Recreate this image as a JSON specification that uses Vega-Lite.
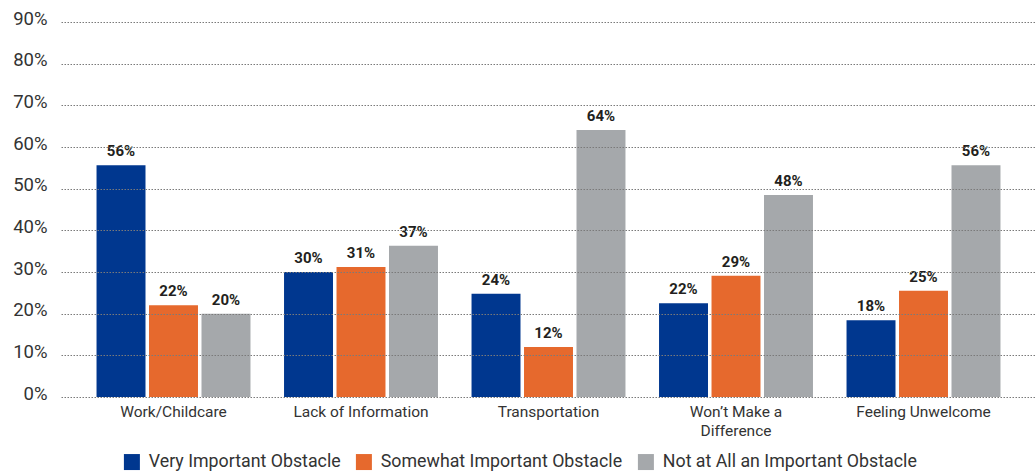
{
  "$schema": "https://vega.github.io/schema/vega-lite/v6.json",
  "width": 975,
  "height": 375,
  "autosize": {"type": "none"},
  "padding": {"left": 61, "top": 22, "right": 0, "bottom": 77},
  "background": "white",
  "config": {
    "view": {"stroke": null},
    "font": "Roboto"
  },
  "data": {
    "values": [
      {"category": "Work/Childcare", "series": "Very Important Obstacle", "value": 55.6, "label": "56%"},
      {"category": "Work/Childcare", "series": "Somewhat Important Obstacle", "value": 22.0, "label": "22%"},
      {"category": "Work/Childcare", "series": "Not at All an Important Obstacle", "value": 20.0, "label": "20%"},
      {"category": "Lack of Information", "series": "Very Important Obstacle", "value": 30.0, "label": "30%"},
      {"category": "Lack of Information", "series": "Somewhat Important Obstacle", "value": 31.2, "label": "31%"},
      {"category": "Lack of Information", "series": "Not at All an Important Obstacle", "value": 36.3, "label": "37%"},
      {"category": "Transportation", "series": "Very Important Obstacle", "value": 24.8, "label": "24%"},
      {"category": "Transportation", "series": "Somewhat Important Obstacle", "value": 12.0, "label": "12%"},
      {"category": "Transportation", "series": "Not at All an Important Obstacle", "value": 64.1, "label": "64%"},
      {"category": "Won’t Make a Difference", "series": "Very Important Obstacle", "value": 22.5, "label": "22%"},
      {"category": "Won’t Make a Difference", "series": "Somewhat Important Obstacle", "value": 29.1, "label": "29%"},
      {"category": "Won’t Make a Difference", "series": "Not at All an Important Obstacle", "value": 48.5, "label": "48%"},
      {"category": "Feeling Unwelcome", "series": "Very Important Obstacle", "value": 18.4, "label": "18%"},
      {"category": "Feeling Unwelcome", "series": "Somewhat Important Obstacle", "value": 25.5, "label": "25%"},
      {"category": "Feeling Unwelcome", "series": "Not at All an Important Obstacle", "value": 55.6, "label": "56%"}
    ]
  },
  "encoding": {
    "x": {
      "field": "category",
      "type": "nominal",
      "sort": null,
      "scale": {"paddingInner": 0.179, "paddingOuter": 0.1895},
      "axis": {
        "title": null,
        "domain": false,
        "ticks": false,
        "labelAngle": 0,
        "labelFontSize": 15.5,
        "labelColor": "#333333",
        "labelPadding": 7,
        "labelLineHeight": 19,
        "labelExpr": "datum.value == 'Won’t Make a Difference' ? ['Won’t Make a', 'Difference'] : datum.label"
      }
    },
    "xOffset": {
      "field": "series",
      "type": "nominal",
      "sort": ["Very Important Obstacle", "Somewhat Important Obstacle", "Not at All an Important Obstacle"],
      "scale": {"paddingInner": 0.067, "paddingOuter": 0}
    },
    "y": {
      "field": "value",
      "type": "quantitative",
      "scale": {"domain": [0, 90], "nice": false},
      "axis": {
        "title": null,
        "domain": false,
        "ticks": false,
        "values": [0, 10, 20, 30, 40, 50, 60, 70, 80, 90],
        "labelExpr": "datum.value + '%'",
        "labelFontSize": 18.5,
        "labelColor": "#333333",
        "labelPadding": 14,
        "labelOffset": -4,
        "grid": true,
        "gridColor": "#7a7a7a",
        "gridDash": [1.5, 1.5],
        "gridWidth": 1,
        "zindex": 1
      }
    }
  },
  "layer": [
    {
      "mark": {"type": "bar"},
      "encoding": {
        "color": {
          "field": "series",
          "type": "nominal",
          "sort": ["Very Important Obstacle", "Somewhat Important Obstacle", "Not at All an Important Obstacle"],
          "scale": {
            "domain": ["Very Important Obstacle", "Somewhat Important Obstacle", "Not at All an Important Obstacle"],
            "range": ["#00378F", "#E6692D", "#A5A8AB"]
          },
          "legend": {
            "title": null,
            "orient": "none",
            "direction": "horizontal",
            "legendX": 62,
            "legendY": 431,
            "symbolType": "square",
            "symbolSize": 256,
            "symbolStrokeWidth": 0,
            "symbolOpacity": 1,
            "labelFontSize": 17.8,
            "labelColor": "#333333",
            "labelOffset": 8,
            "columnPadding": 14,
            "labelLimit": 400
          }
        }
      }
    },
    {
      "mark": {"type": "text", "baseline": "bottom", "dy": -6, "fontSize": 15, "fontWeight": "bold", "color": "#231F20"},
      "encoding": {
        "text": {"field": "label", "type": "nominal"}
      }
    }
  ]
}
